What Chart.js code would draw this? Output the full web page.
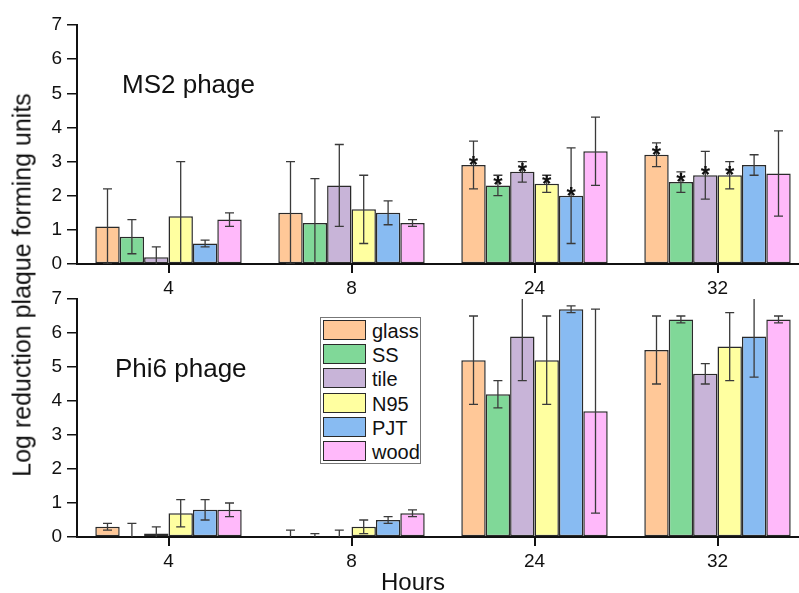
<!DOCTYPE html>
<html><head><meta charset="utf-8">
<script src="https://cdn.jsdelivr.net/npm/chart.js@4.4.1/dist/chart.umd.min.js"></script>
<style>
html,body{margin:0;padding:0;background:#fff;overflow:hidden;width:799px;height:593px;}
#wrap{position:relative;width:799px;height:593px;overflow:hidden;font-family:"Liberation Sans",Arial,sans-serif;color:#111;}
#c1{position:absolute;left:0;top:0;}
#c2{position:absolute;left:0;top:280px;}
.txt{position:absolute;white-space:nowrap;line-height:1;}
#legend{position:absolute;left:320px;top:317px;width:99px;height:145px;border:1px solid #777;background:#fff;}
.sw{position:absolute;left:2px;width:41px;height:18px;border:1.5px solid #2a2a2a;}
.lb{position:absolute;left:51px;font-size:20px;line-height:22px;height:22px;}
</style></head><body>
<div id="wrap">
<canvas id="c1" width="812" height="300" style="width:812px;height:300px"></canvas>
<canvas id="c2" width="812" height="313" style="width:812px;height:313px"></canvas>
<div class="txt" style="left:122px;top:71px;font-size:26px;">MS2 phage</div>
<div class="txt" style="left:115px;top:355px;font-size:26px;">Phi6 phage</div>
<div class="txt" style="left:22px;top:285px;font-size:25px;transform:translate(-50%,-50%) rotate(-90deg);">Log reduction plaque forming units</div>
<div class="txt" style="left:413px;top:570px;font-size:24px;transform:translateX(-50%);">Hours</div>
<div id="legend"></div>
</div>
<script>
// ---- data ----
const categories = ['4', '8', '24', '32'];
const seriesNames = ['glass', 'SS', 'tile', 'N95', 'PJT', 'wood'];
const yTicks = [0, 1, 2, 3, 4, 5, 6, 7];

// MS2 phage (top panel)
const ms2Glass = [1.1, 1.5, 2.9, 3.2];
const ms2SS    = [0.8, 1.2, 2.3, 2.4];
const ms2Tile  = [0.2, 2.3, 2.7, 2.6];
const ms2N95   = [1.4, 1.6, 2.35, 2.6];
const ms2PJT   = [0.6, 1.5, 2.0, 2.9];
const ms2Wood  = [1.3, 1.2, 3.3, 2.65];

const ms2GlassErr = [1.1, 1.5, 0.7, 0.35];
const ms2SSErr    = [0.5, 1.3, 0.3, 0.3];
const ms2TileErr  = [0.3, 1.2, 0.3, 0.7];
const ms2N95Err   = [1.6, 1.0, 0.25, 0.4];
const ms2PJTErr   = [0.1, 0.35, 1.4, 0.3];
const ms2WoodErr  = [0.2, 0.1, 1.0, 1.25];

const ms2GlassSig = [false, false, true, true];
const ms2SSSig    = [false, false, true, true];
const ms2TileSig  = [false, false, true, true];
const ms2N95Sig   = [false, false, true, true];
const ms2PJTSig   = [false, false, true, false];
const ms2WoodSig  = [false, false, false, false];

// Phi6 phage (bottom panel)
const phiGlass = [0.3, 0, 5.2, 5.5];
const phiSS    = [0, 0, 4.2, 6.4];
const phiTile  = [0.1, 0, 5.9, 4.8];
const phiN95   = [0.7, 0.3, 5.2, 5.6];
const phiPJT   = [0.8, 0.5, 6.7, 5.9];
const phiWood  = [0.8, 0.7, 3.7, 6.4];

const phiGlassErr = [0.1, 0.2, 1.3, 1.0];
const phiSSErr    = [0.4, 0.1, 0.4, 0.1];
const phiTileErr  = [0.2, 0.2, 1.3, 0.3];
const phiN95Err   = [0.4, 0.2, 1.3, 1.0];
const phiPJTErr   = [0.3, 0.1, 0.1, 1.2];
const phiWoodErr  = [0.2, 0.1, 3.0, 0.1];

// ---- styles ----
const colors = ['#FFC898', '#80D898', '#C8B4D8', '#FFFFA0', '#88BBF2', '#FFB9FA'];
const FONT = '"Liberation Sans", Arial, sans-serif';

const ms2Vals = [ms2Glass, ms2SS, ms2Tile, ms2N95, ms2PJT, ms2Wood];
const ms2Errs = [ms2GlassErr, ms2SSErr, ms2TileErr, ms2N95Err, ms2PJTErr, ms2WoodErr];
const ms2Sigs = [ms2GlassSig, ms2SSSig, ms2TileSig, ms2N95Sig, ms2PJTSig, ms2WoodSig];
const phiVals = [phiGlass, phiSS, phiTile, phiN95, phiPJT, phiWood];
const phiErrs = [phiGlassErr, phiSSErr, phiTileErr, phiN95Err, phiPJTErr, phiWoodErr];

function makeDatasets(vals, errs, sigs) {
  return seriesNames.map((name, i) => ({
    label: name,
    data: vals[i],
    errors: errs[i],
    stars: sigs ? sigs[i] : null,
    backgroundColor: colors[i],
    borderColor: '#2a2a2a',
    borderWidth: 1.5,
    borderSkipped: false,
    categoryPercentage: 0.8,
    barPercentage: 1.0
  }));
}

const errorBarPlugin = {
  id: 'errorBars',
  afterDatasetsDraw(chart) {
    const { ctx, chartArea, scales } = chart;
    const y = scales.y;
    ctx.save();
    ctx.beginPath();
    ctx.rect(chartArea.left, chartArea.top, chartArea.right - chartArea.left, chartArea.bottom - chartArea.top);
    ctx.clip();
    ctx.strokeStyle = '#3a3a3a';
    ctx.lineWidth = 1.3;
    chart.data.datasets.forEach((ds, di) => {
      const meta = chart.getDatasetMeta(di);
      meta.data.forEach((bar, i) => {
        const v = ds.data[i], e = ds.errors[i];
        const x = bar.x;
        const yt = y.getPixelForValue(v + e);
        const yb = y.getPixelForValue(v - e);
        const cap = 4.5;
        ctx.beginPath();
        ctx.moveTo(x, yt); ctx.lineTo(x, yb);
        ctx.moveTo(x - cap, yt); ctx.lineTo(x + cap, yt);
        ctx.moveTo(x - cap, yb); ctx.lineTo(x + cap, yb);
        ctx.stroke();
      });
    });
    ctx.restore();
    // significance asterisks
    ctx.save();
    ctx.fillStyle = '#111';
    ctx.font = 'bold 24px ' + FONT;
    ctx.textAlign = 'center';
    ctx.textBaseline = 'alphabetic';
    chart.data.datasets.forEach((ds, di) => {
      if (!ds.stars) return;
      const meta = chart.getDatasetMeta(di);
      meta.data.forEach((bar, i) => {
        if (ds.stars[i]) {
          ctx.fillText('*', bar.x, y.getPixelForValue(ds.data[i]) + 8);
        }
      });
    });
    ctx.restore();
  }
};

function makeChart(id, datasets, axisH, padTop) {
  return new Chart(document.getElementById(id), {
    type: 'bar',
    data: { labels: categories, datasets },
    plugins: [errorBarPlugin],
    options: {
      responsive: false,
      animation: false,
      events: [],
      layout: { padding: { left: 0, right: 3, top: padTop, bottom: 0 } },
      plugins: { legend: { display: false }, tooltip: { enabled: false } },
      scales: {
        x: {
          z: 1,
          offset: true,
          grid: { offset: false, drawOnChartArea: false, drawTicks: true, tickLength: 9, color: '#111', lineWidth: 2 },
          border: { display: true, color: '#111', width: 2 },
          ticks: { color: '#111', font: { family: FONT, size: 19 }, padding: 4, maxRotation: 0 },
          afterFit(s) { s.height = axisH; }
        },
        y: {
          z: 1,
          min: 0, max: 7,
          afterBuildTicks(s) { s.ticks = yTicks.map(v => ({ value: v })); },
          grid: { drawOnChartArea: false, drawTicks: true, tickLength: 10, color: '#111', lineWidth: 1.5 },
          border: { display: true, color: '#111', width: 2 },
          ticks: { color: '#111', font: { family: FONT, size: 19 }, padding: 5 },
          afterFit(s) { s.width = 77; }
        }
      }
    }
  });
}

makeChart('c1', makeDatasets(ms2Vals, ms2Errs, ms2Sigs), 36, 25);
makeChart('c2', makeDatasets(phiVals, phiErrs, null), 56, 19);

// legend built from series
const leg = document.getElementById('legend');
seriesNames.forEach((name, i) => {
  const top = 2 + i * 24.2;
  const sw = document.createElement('div');
  sw.className = 'sw';
  sw.style.top = top + 'px';
  sw.style.background = colors[i];
  leg.appendChild(sw);
  const lb = document.createElement('div');
  lb.className = 'lb';
  lb.style.top = top + 'px';
  lb.textContent = name;
  leg.appendChild(lb);
});
</script>
</body></html>
